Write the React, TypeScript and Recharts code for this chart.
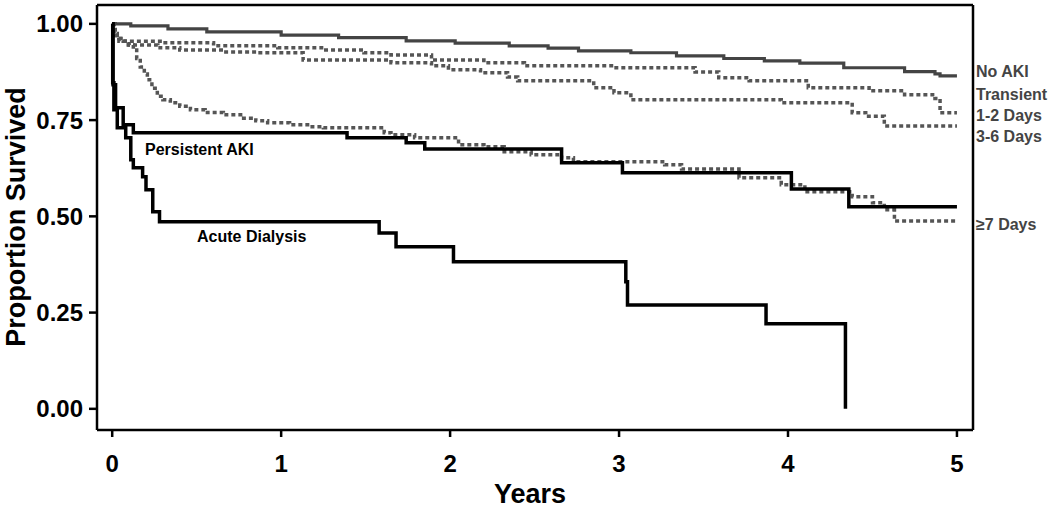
import { LineChart, Line, XAxis, YAxis, ReferenceLine, Label } from "recharts";

// 연도 (x) 축 눈금과 생존율 (y) 축 눈금
const yearTicks = [0, 1, 2, 3, 4, 5];
const survTicks = [0, 0.25, 0.5, 0.75, 1.0];

// Kaplan-Meier 곡선: 시간(년)과 생존율
const noAkiT = [0, 0.11, 0.33, 0.56, 1.0, 1.34, 1.74, 2.03, 2.35, 2.58, 2.76, 3.07, 3.34, 3.62, 3.86, 4.07, 4.33, 4.69, 4.87, 4.9, 5.0];
const noAkiS = [1.0, 0.995, 0.987, 0.979, 0.971, 0.964, 0.956, 0.95, 0.943, 0.937, 0.93, 0.925, 0.917, 0.91, 0.904, 0.898, 0.886, 0.876, 0.87, 0.865, 0.865];

const days12T = [0, 0.01, 0.03, 0.07, 0.3, 0.6, 0.98, 1.25, 1.49, 1.65, 1.89, 2.2, 2.44, 2.97, 3.45, 3.59, 3.77, 4.12, 4.48, 4.69, 4.87, 4.9, 5.0];
const days12S = [1.0, 0.975, 0.962, 0.955, 0.951, 0.943, 0.938, 0.932, 0.925, 0.919, 0.906, 0.899, 0.891, 0.886, 0.875, 0.86, 0.852, 0.834, 0.826, 0.816, 0.806, 0.769, 0.769];

const days36T = [0, 0.01, 0.04, 0.1, 0.27, 0.4, 0.66, 0.86, 1.13, 1.65, 1.89, 1.99, 2.18, 2.34, 2.4, 2.85, 2.97, 3.07, 3.96, 4.38, 4.46, 4.57, 5.0];
const days36S = [1.0, 0.97, 0.955, 0.945, 0.938, 0.932, 0.927, 0.925, 0.906, 0.899, 0.891, 0.881, 0.873, 0.862, 0.852, 0.834, 0.821, 0.803, 0.795, 0.769, 0.76, 0.735, 0.735];

const days7T = [0, 0.018, 0.04, 0.065, 0.095, 0.125, 0.145, 0.166, 0.19, 0.208, 0.235, 0.267, 0.3, 0.344, 0.4, 0.463, 0.55, 0.658, 0.76, 0.85, 0.92, 1.05, 1.17, 1.25, 1.61, 1.65, 1.79, 2.05, 2.2, 2.32, 2.48, 2.66, 2.73, 3.27, 3.37, 3.71, 3.96, 4.1, 4.38, 4.5, 4.57, 4.63, 5.0];
const days7S = [1.0, 0.97, 0.962, 0.955, 0.945, 0.932, 0.91, 0.888, 0.87, 0.855, 0.833, 0.812, 0.803, 0.795, 0.786, 0.777, 0.77, 0.764, 0.755, 0.748, 0.743, 0.738, 0.733, 0.73, 0.717, 0.712, 0.704, 0.686, 0.681, 0.668, 0.66, 0.652, 0.642, 0.634, 0.623, 0.6, 0.582, 0.564, 0.551, 0.535, 0.517, 0.488, 0.488];

const persistT = [0, 0.005, 0.02, 0.065, 0.125, 1.39, 1.74, 1.85, 2.66, 3.02, 4.02, 4.36, 5.0];
const persistS = [1.0, 0.842, 0.782, 0.738, 0.717, 0.704, 0.691, 0.675, 0.639, 0.613, 0.571, 0.525, 0.525];

const dialysisT = [0, 0.003, 0.01, 0.03, 0.08, 0.11, 0.125, 0.18, 0.2, 0.24, 0.28, 1.58, 1.68, 2.02, 3.04, 3.05, 3.87, 4.34];
const dialysisS = [1.0, 0.847, 0.777, 0.73, 0.704, 0.647, 0.626, 0.603, 0.569, 0.512, 0.486, 0.457, 0.421, 0.382, 0.33, 0.27, 0.221, 0.0];

// 오른쪽 범례 라벨과 곡선 안의 라벨
const rightLabels = [
  { text: "No AKI", y: 72 },
  { text: "Transient", y: 95 },
  { text: "1-2 Days", y: 116 },
  { text: "3-6 Days", y: 137 },
  { text: "≥7 Days", y: 225 },
];

const X_DOMAIN: [number, number] = [-0.09, 5.095];
const Y_DOMAIN: [number, number] = [-0.055, 1.049];

const FONT = "'Liberation Sans', Arial, sans-serif";

const toPoints = (t: number[], s: number[]) => t.map((v, i) => ({ t: v, s: s[i] }));

export default function App() {
  const series = [
    { key: "days36", data: toPoints(days36T, days36S), stroke: "#555", width: 3.5, dash: "4 3" },
    { key: "days12", data: toPoints(days12T, days12S), stroke: "#555", width: 3.5, dash: "4 3" },
    { key: "days7", data: toPoints(days7T, days7S), stroke: "#555", width: 3.5, dash: "4 3" },
    { key: "noAki", data: toPoints(noAkiT, noAkiS), stroke: "#444", width: 3.2, dash: undefined },
    { key: "persist", data: toPoints(persistT, persistS), stroke: "#000", width: 3.5, dash: undefined },
    { key: "dialysis", data: toPoints(dialysisT, dialysisS), stroke: "#000", width: 3.5, dash: undefined },
  ];

  const tickStyle = { fontSize: 24, fontWeight: 700, fill: "#000", fontFamily: FONT };

  return (
    <div style={{ position: "absolute", left: 0, top: 0, width: 1050, height: 511, background: "#fff" }}>
      <LineChart width={1050} height={511} margin={{ top: 5, right: 77, bottom: 0, left: 0 }}>
        <XAxis
          type="number"
          dataKey="t"
          domain={X_DOMAIN}
          ticks={yearTicks}
          allowDataOverflow
          height={81}
          stroke="#000"
          strokeWidth={2.5}
          tickSize={7}
          tickMargin={18}
          tick={tickStyle}
          tickLine={{ stroke: "#000", strokeWidth: 2.5 }}
        >
          <Label
            content={() => (
              <text x={530} y={503} textAnchor="middle" fontSize={27} fontWeight={700} fontFamily={FONT} fill="#000">
                Years
              </text>
            )}
          />
        </XAxis>
        <YAxis
          type="number"
          dataKey="s"
          domain={Y_DOMAIN}
          ticks={survTicks}
          allowDataOverflow
          width={97}
          stroke="#000"
          strokeWidth={2.5}
          tickSize={8}
          tickMargin={6}
          tick={tickStyle}
          tickLine={{ stroke: "#000", strokeWidth: 2.5 }}
          tickFormatter={(v: number) => v.toFixed(2)}
        >
          <Label
            content={() => (
              <text
                x={16}
                y={217}
                transform="rotate(-90 16 217)"
                textAnchor="middle"
                dominantBaseline="central"
                fontSize={27}
                fontWeight={700}
                fontFamily={FONT}
                fill="#000"
              >
                Proportion Survived
              </text>
            )}
          />
        </YAxis>
        {/* 그래프 테두리 위쪽/오른쪽 */}
        <ReferenceLine y={Y_DOMAIN[1]} stroke="#000" strokeWidth={2.5} />
        <ReferenceLine x={X_DOMAIN[1]} stroke="#000" strokeWidth={2.5} />
        {series.map((s) => (
          <Line
            key={s.key}
            data={s.data}
            dataKey="s"
            type="stepAfter"
            stroke={s.stroke}
            strokeWidth={s.width}
            strokeDasharray={s.dash}
            dot={false}
            activeDot={false}
            isAnimationActive={false}
          />
        ))}
      </LineChart>

      {rightLabels.map((l) => (
        <div
          key={l.text}
          style={{
            position: "absolute",
            left: 976,
            top: l.y,
            transform: "translateY(-50%)",
            fontFamily: FONT,
            fontWeight: 700,
            fontSize: 16,
            lineHeight: 1,
            color: "#444",
            whiteSpace: "nowrap",
          }}
        >
          {l.text}
        </div>
      ))}
      <div style={{ position: "absolute", left: 145, top: 150, transform: "translateY(-50%)", fontFamily: FONT, fontWeight: 700, fontSize: 16, lineHeight: 1, color: "#000", whiteSpace: "nowrap" }}>
        Persistent AKI
      </div>
      <div style={{ position: "absolute", left: 197, top: 237, transform: "translateY(-50%)", fontFamily: FONT, fontWeight: 700, fontSize: 16, lineHeight: 1, color: "#000", whiteSpace: "nowrap" }}>
        Acute Dialysis
      </div>
    </div>
  );
}
